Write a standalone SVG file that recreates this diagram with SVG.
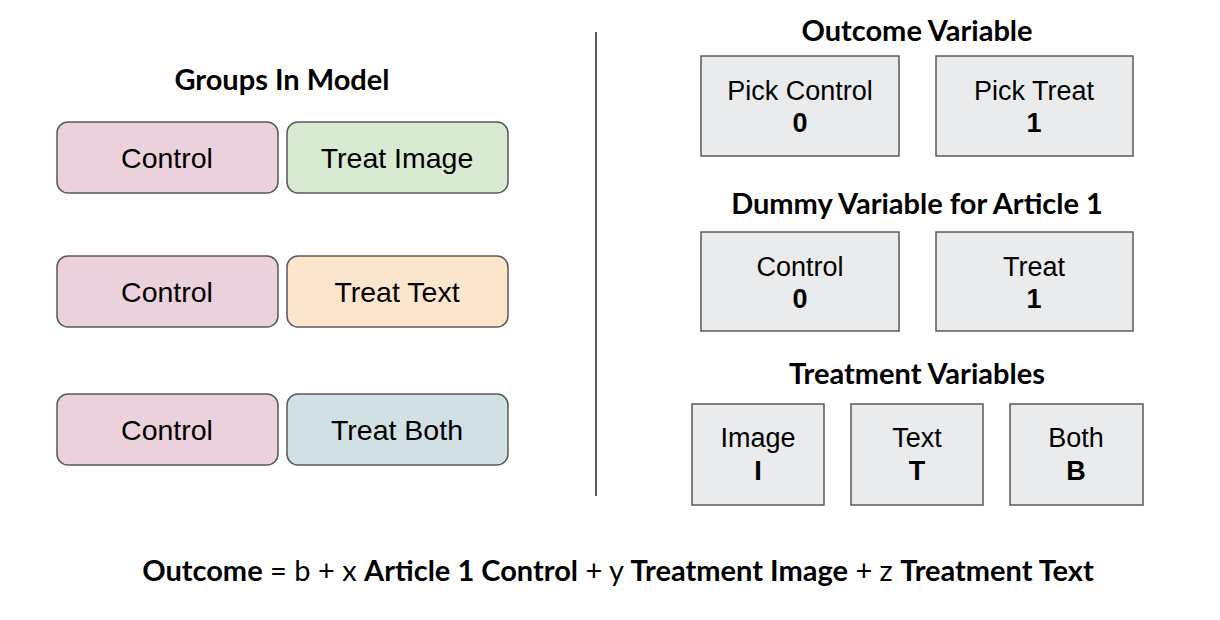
<svg xmlns="http://www.w3.org/2000/svg" width="1220" height="620" viewBox="0 0 1220 620">
<style>
.t{font-family:Lato,"Liberation Sans",sans-serif;font-weight:bold;font-size:29px;fill:#000;text-anchor:middle}
.r{stroke:#595959;stroke-width:1.5}
.g{fill:#e9ebec;stroke:#595959;stroke-width:1.5}
.b{font-family:"Liberation Sans",Arial,sans-serif;font-size:28.5px;fill:#000;text-anchor:middle}
.s{font-family:"Liberation Sans",Arial,sans-serif;font-size:27px;fill:#000;text-anchor:middle}
.bb{font-family:"Liberation Sans",Arial,sans-serif;font-size:27px;font-weight:bold;fill:#000;text-anchor:middle}
.eq{font-family:Lato,sans-serif;font-size:29px;fill:#000}
</style>
<rect width="1220" height="620" fill="#fff"/>
<text class="t" x="282" y="90">Groups In Model</text>
<g id="c1"><rect class="r" x="57" y="122" width="221" height="71" rx="11" fill="#ead1dc"/><text class="b" x="167" y="168">Control</text></g>
<g id="ti"><rect class="r" x="287" y="122" width="221" height="71" rx="11" fill="#d9ead3"/><text class="b" x="397" y="168">Treat Image</text></g>
<g id="c2"><rect class="r" x="57" y="256" width="221" height="71" rx="11" fill="#ead1dc"/><text class="b" x="167" y="302">Control</text></g>
<g id="tt"><rect class="r" x="287" y="256" width="221" height="71" rx="11" fill="#fce5cd"/><text class="b" x="397" y="302">Treat Text</text></g>
<g id="c3"><rect class="r" x="57" y="394" width="221" height="71" rx="11" fill="#ead1dc"/><text class="b" x="167" y="440">Control</text></g>
<g id="tb"><rect class="r" x="287" y="394" width="221" height="71" rx="11" fill="#d0e0e3"/><text class="b" x="397" y="440">Treat Both</text></g>
<g id="connectors"><line x1="596" y1="32" x2="596" y2="496" stroke="#595959" stroke-width="2"/></g>
<text class="t" x="917" y="41">Outcome Variable</text>
<g id="pc"><rect class="g" x="701" y="56" width="198" height="100"/><text class="s" x="800" y="100">Pick Control</text><text class="bb" x="800" y="132">0</text></g>
<g id="pt"><rect class="g" x="936" y="56" width="197" height="100"/><text class="s" x="1034" y="100">Pick Treat</text><text class="bb" x="1034" y="132">1</text></g>
<text class="t" x="917" y="214">Dummy Variable for Article 1</text>
<g id="dc"><rect class="g" x="701" y="232" width="198" height="99"/><text class="s" x="800" y="276">Control</text><text class="bb" x="800" y="308">0</text></g>
<g id="dt"><rect class="g" x="936" y="232" width="197" height="99"/><text class="s" x="1034" y="276">Treat</text><text class="bb" x="1034" y="308">1</text></g>
<text class="t" x="917" y="384">Treatment Variables</text>
<g id="vi"><rect class="g" x="692" y="404" width="132" height="101"/><text class="s" x="758" y="447">Image</text><text class="bb" x="758" y="480">I</text></g>
<g id="vt"><rect class="g" x="851" y="404" width="132" height="101"/><text class="s" x="917" y="447">Text</text><text class="bb" x="917" y="480">T</text></g>
<g id="vb"><rect class="g" x="1010" y="404" width="133" height="101"/><text class="s" x="1076" y="447">Both</text><text class="bb" x="1076" y="480">B</text></g>
<text class="eq" x="618" y="581" text-anchor="middle"><tspan font-weight="bold">Outcome</tspan> = b + x <tspan font-weight="bold">Article 1 Control</tspan> + y <tspan font-weight="bold">Treatment Image</tspan> + z <tspan font-weight="bold">Treatment Text</tspan></text>
</svg>
